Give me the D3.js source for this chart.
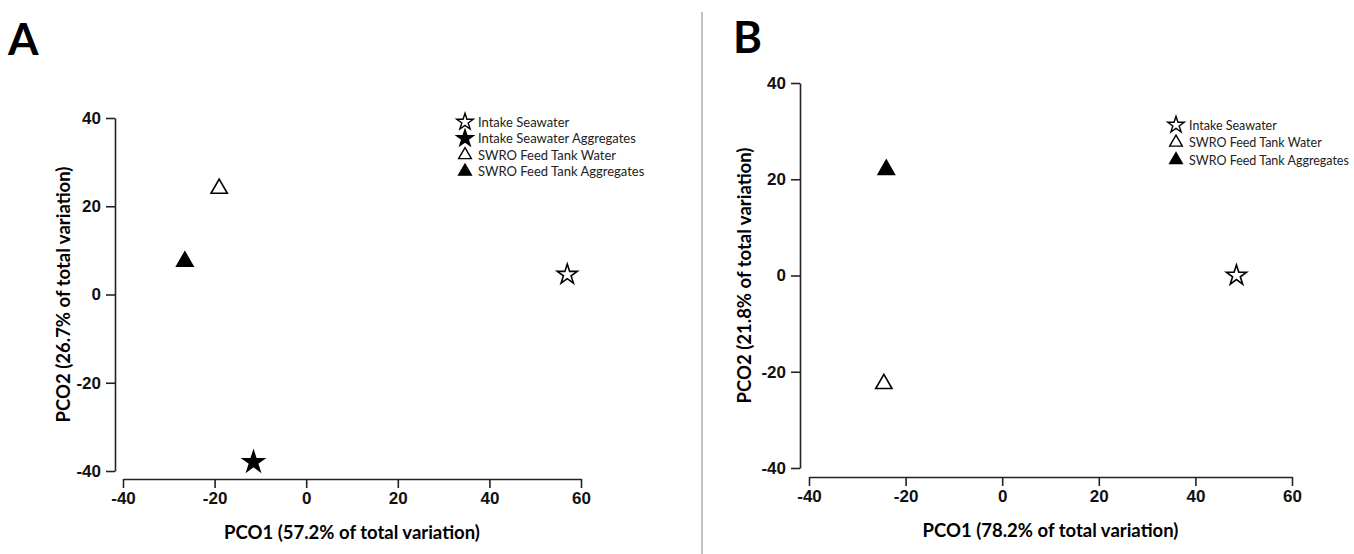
<!DOCTYPE html>
<html>
<head>
<meta charset="utf-8">
<style>
  body { margin: 0; background: #fff; }
  svg { display: block; font-family: Lato, "Open Sans", sans-serif; }
  .tick text { font-weight: bold; font-size: 17px; fill: #111; }
  .axis path, .axis line { stroke: #222; stroke-width: 1.6; }
</style>
</head>
<body>
<svg id="svg" width="1354" height="554"></svg>
<script src="https://cdn.jsdelivr.net/npm/d3@7"></script>
<script>
  // panel A
  const groupsA = ["Intake Seawater", "Intake Seawater Aggregates", "SWRO Feed Tank Water", "SWRO Feed Tank Aggregates"]
  const pco1A = [57, -11.5, -19, -26.5]
  const pco2A = [4.5, -38, 24, 7.5]

  // panel B
  const groupsB = ["Intake Seawater", "SWRO Feed Tank Water", "SWRO Feed Tank Aggregates"]
  const pco1B = [48.5, -24.5, -24]
  const pco2B = [0, -22.5, 22]

  const xTicks = [-40, -20, 0, 20, 40, 60]
  const yTicks = [-40, -20, 0, 20, 40]

  // marker style per group
  const markers = {
    "Intake Seawater": { type: d3.symbolStar, fill: "#fff" },
    "Intake Seawater Aggregates": { type: d3.symbolStar, fill: "#000" },
    "SWRO Feed Tank Water": { type: d3.symbolTriangle, fill: "#fff" },
    "SWRO Feed Tank Aggregates": { type: d3.symbolTriangle, fill: "#000" }
  }

  const svg = d3.select("#svg")

  // divider between the panels
  svg.append("line")
    .attr("x1", 702).attr("x2", 702)
    .attr("y1", 12).attr("y2", 554)
    .attr("stroke", "#999").attr("stroke-width", 1.2)

  function drawPanel(opts) {
    const x = d3.scaleLinear().domain([-40, 60]).range(opts.xRange)
    const y = d3.scaleLinear().domain([-40, 40]).range(opts.yRange)
    const g = svg.append("g")

    g.append("text")
      .attr("x", opts.letterPos[0]).attr("y", opts.letterPos[1])
      .text(opts.letter)
      .style("font-size", "44px").style("font-weight", "bold")

    g.append("g")
      .attr("class", "axis")
      .attr("transform", `translate(0, ${opts.xAxisY})`)
      .call(d3.axisBottom(x).tickValues(xTicks).tickFormat(d => String(d))
        .tickSize(9).tickSizeOuter(0).tickPadding(4))

    g.append("g")
      .attr("class", "axis")
      .attr("transform", `translate(${opts.yAxisX}, 0)`)
      .call(d3.axisLeft(y).tickValues(yTicks).tickFormat(d => String(d))
        .tickSize(9).tickSizeOuter(0).tickPadding(5))

    g.append("text")
      .attr("x", (opts.xRange[0] + opts.xRange[1]) / 2)
      .attr("y", opts.xTitleY)
      .attr("text-anchor", "middle")
      .style("font-size", "18.5px").style("font-weight", "bold")
      .text(opts.xTitle)

    g.append("text")
      .attr("transform", `translate(${opts.yTitleX}, ${(opts.yRange[0] + opts.yRange[1]) / 2}) rotate(-90)`)
      .attr("text-anchor", "middle")
      .style("font-size", "18.5px").style("font-weight", "bold")
      .text(opts.yTitle)

    const pts = opts.groups.map((name, i) => ({ name, px: opts.pco1[i], py: opts.pco2[i] }))

    g.selectAll(".pt")
      .data(pts)
      .enter().append("path")
      .attr("class", "pt")
      .attr("transform", d => `translate(${x(d.px)}, ${y(d.py)})`)
      .attr("d", d => d3.symbol().type(markers[d.name].type)
        .size(markers[d.name].type === d3.symbolStar ? (markers[d.name].fill === "#000" ? 135 : 125) : 115)())
      .attr("fill", d => markers[d.name].fill)
      .attr("stroke", "#000")
      .attr("stroke-width", 1.6)

    const legend = g.append("g")
      .attr("transform", `translate(${opts.legendPos[0]}, ${opts.legendPos[1]})`)

    legend.selectAll("path")
      .data(opts.groups)
      .enter().append("path")
      .attr("transform", (d, i) => `translate(0, ${i * opts.legendStep})`)
      .attr("d", d => d3.symbol().type(markers[d].type)
        .size(markers[d].type === d3.symbolStar ? 85 : 70)())
      .attr("fill", d => markers[d].fill)
      .attr("stroke", "#000")
      .attr("stroke-width", 1.4)

    legend.selectAll("text")
      .data(opts.groups)
      .enter().append("text")
      .attr("x", 13)
      .attr("y", (d, i) => i * opts.legendStep + 4.5)
      .text(d => d)
      .style("font-size", opts.legendFont)
      .style("fill", "#222")
  }

  drawPanel({
    letter: "A", letterPos: [8, 55],
    groups: groupsA, pco1: pco1A, pco2: pco2A,
    xRange: [123, 581], yRange: [471, 118],
    xAxisY: 479, yAxisX: 115,
    xTitle: "PCO1 (57.2% of total variation)", xTitleY: 539,
    yTitle: "PCO2 (26.7% of total variation)", yTitleX: 70,
    legendPos: [465, 122], legendStep: 16.5, legendFont: "13px"
  })

  drawPanel({
    letter: "B", letterPos: [733, 53],
    groups: groupsB, pco1: pco1B, pco2: pco2B,
    xRange: [809, 1292], yRange: [468, 83],
    xAxisY: 477, yAxisX: 800,
    xTitle: "PCO1 (78.2% of total variation)", xTitleY: 537,
    yTitle: "PCO2 (21.8% of total variation)", yTitleX: 751,
    legendPos: [1176, 125], legendStep: 17.5, legendFont: "12.5px"
  })
</script>
</body>
</html>
